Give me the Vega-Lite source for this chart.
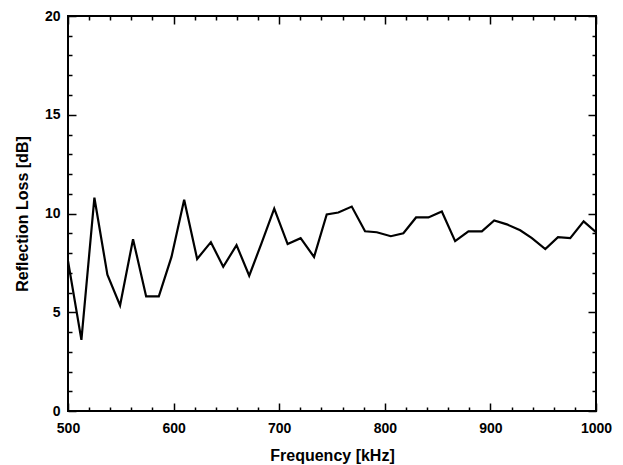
{
  "$schema": "https://vega.github.io/schema/vega-lite/v6.json",
  "width": 528,
  "height": 395,
  "autosize": {"type": "none"},
  "padding": {"left": 68, "top": 16, "right": 27, "bottom": 54},
  "background": "white",
  "config": {
    "view": {"stroke": "black", "strokeWidth": 2},
    "axis": {
      "labelFont": "Liberation Sans",
      "titleFont": "Liberation Sans",
      "labelFontSize": 14,
      "labelFontWeight": "bold",
      "titleFontSize": 16,
      "titleFontWeight": "bold",
      "labelColor": "black",
      "titleColor": "black",
      "labelFlush": false,
      "ticks": true,
      "tickColor": "black",
      "tickOpacity": 1,
      "tickWidth": 1.5,
      "domain": false,
      "grid": false,
      "format": "d"
    }
  },
  "data": {
    "values": [
      {"freq": 500, "loss": 7.6},
      {"freq": 512.7, "loss": 3.6},
      {"freq": 525, "loss": 10.8},
      {"freq": 537.3, "loss": 6.9},
      {"freq": 549.3, "loss": 5.35},
      {"freq": 561.6, "loss": 8.7},
      {"freq": 574, "loss": 5.8},
      {"freq": 586, "loss": 5.8},
      {"freq": 598, "loss": 7.8},
      {"freq": 610, "loss": 10.7},
      {"freq": 622.3, "loss": 7.7},
      {"freq": 635.3, "loss": 8.55},
      {"freq": 647, "loss": 7.3},
      {"freq": 659.6, "loss": 8.4},
      {"freq": 671.6, "loss": 6.85},
      {"freq": 683.3, "loss": 8.5},
      {"freq": 695.3, "loss": 10.25},
      {"freq": 708, "loss": 8.45},
      {"freq": 720.3, "loss": 8.75},
      {"freq": 733, "loss": 7.8},
      {"freq": 745, "loss": 9.95},
      {"freq": 756, "loss": 10.05},
      {"freq": 768.7, "loss": 10.35},
      {"freq": 781.3, "loss": 9.1},
      {"freq": 792.4, "loss": 9.05},
      {"freq": 805.7, "loss": 8.85},
      {"freq": 817.6, "loss": 9.0},
      {"freq": 829.6, "loss": 9.8},
      {"freq": 841.3, "loss": 9.8},
      {"freq": 854, "loss": 10.1},
      {"freq": 866.6, "loss": 8.6},
      {"freq": 879.2, "loss": 9.1},
      {"freq": 891.9, "loss": 9.1},
      {"freq": 903.6, "loss": 9.65},
      {"freq": 915.6, "loss": 9.45},
      {"freq": 928.2, "loss": 9.15},
      {"freq": 939.3, "loss": 8.75},
      {"freq": 952, "loss": 8.2},
      {"freq": 964, "loss": 8.8},
      {"freq": 975.6, "loss": 8.75},
      {"freq": 988.3, "loss": 9.6},
      {"freq": 1000, "loss": 9.05}
    ]
  },
  "layer": [
    {
      "mark": {"type": "line", "color": "black", "strokeWidth": 2.2, "clip": true},
      "encoding": {
        "x": {"field": "freq", "type": "quantitative", "scale": {"domain": [500, 1000], "nice": false, "zero": false},
          "axis": {"orient": "bottom", "values": [500, 600, 700, 800, 900, 1000], "offset": -8, "tickSize": 8, "labelPadding": 10, "title": "Frequency [kHz]", "titlePadding": 12}},
        "y": {"field": "loss", "type": "quantitative", "scale": {"domain": [0, 20], "nice": false},
          "axis": {"orient": "left", "values": [0, 5, 10, 15, 20], "offset": -8, "tickSize": 8, "labelPadding": 8, "title": "Reflection Loss [dB]", "titlePadding": 14}}
      }
    },
    {
      "mark": {"type": "line", "opacity": 0},
      "encoding": {
        "x": {"field": "freq", "type": "quantitative",
          "axis": {"orient": "bottom", "values": [520, 540, 560, 580, 620, 640, 660, 680, 720, 740, 760, 780, 820, 840, 860, 880, 920, 940, 960, 980], "offset": -4, "tickSize": 4, "labels": false, "title": null}},
        "y": {"field": "loss", "type": "quantitative",
          "axis": {"orient": "left", "values": [1, 2, 3, 4, 6, 7, 8, 9, 11, 12, 13, 14, 16, 17, 18, 19], "offset": -4, "tickSize": 4, "labels": false, "title": null}}
      }
    },
    {
      "mark": {"type": "line", "opacity": 0},
      "encoding": {
        "x": {"field": "freq", "type": "quantitative",
          "axis": {"orient": "top", "values": [500, 600, 700, 800, 900, 1000], "offset": -8, "tickSize": 8, "labels": false, "title": null}},
        "y": {"field": "loss", "type": "quantitative",
          "axis": {"orient": "right", "values": [0, 5, 10, 15, 20], "offset": -8, "tickSize": 8, "labels": false, "title": null}}
      }
    },
    {
      "mark": {"type": "line", "opacity": 0},
      "encoding": {
        "x": {"field": "freq", "type": "quantitative",
          "axis": {"orient": "top", "values": [520, 540, 560, 580, 620, 640, 660, 680, 720, 740, 760, 780, 820, 840, 860, 880, 920, 940, 960, 980], "offset": -4, "tickSize": 4, "labels": false, "title": null}},
        "y": {"field": "loss", "type": "quantitative",
          "axis": {"orient": "right", "values": [1, 2, 3, 4, 6, 7, 8, 9, 11, 12, 13, 14, 16, 17, 18, 19], "offset": -4, "tickSize": 4, "labels": false, "title": null}}
      }
    }
  ],
  "resolve": {"axis": {"x": "independent", "y": "independent"}}
}
